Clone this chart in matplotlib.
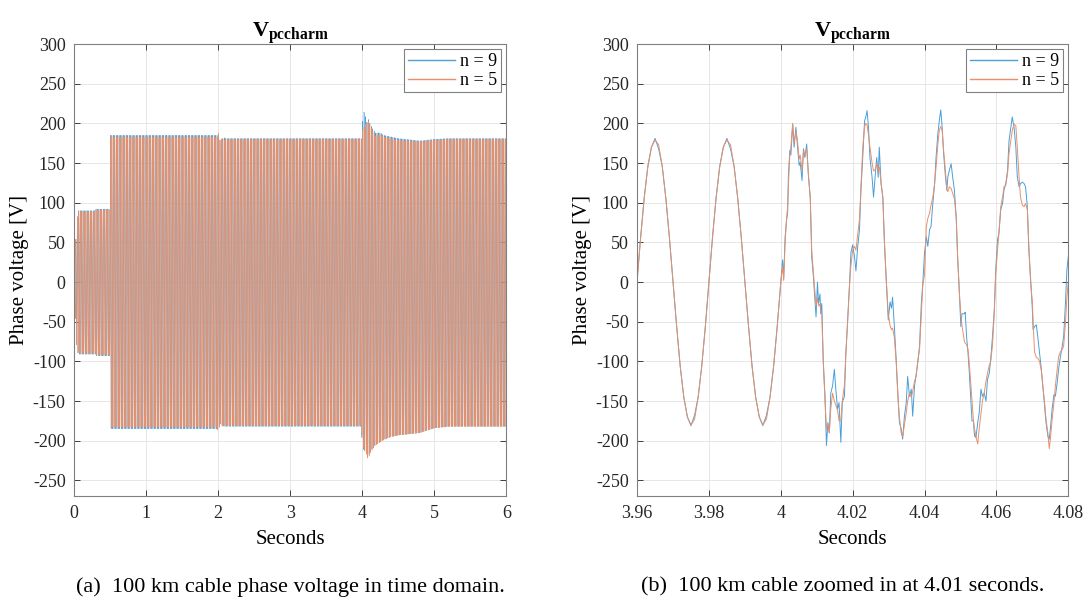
import numpy as np
import matplotlib
matplotlib.use('Agg')
import matplotlib.pyplot as plt

plt.rcParams['font.family'] = ['Liberation Serif', 'DejaVu Serif']
plt.rcParams['mathtext.fontset'] = 'custom'
plt.rcParams['mathtext.rm'] = 'Liberation Serif'
plt.rcParams['mathtext.bf'] = 'Liberation Serif:bold'
plt.rcParams['axes.unicode_minus'] = False

blue = '#4a9fd8'
orange = '#ec8f68'
labels = ['n = 9', 'n = 5']

# ---- full run: peak envelope of the 50 Hz phase voltage (seconds, volts)
f_grid = 50.0
env_t = [0.0, 0.01, 0.02, 0.04, 0.06, 0.30, 0.301, 0.50, 0.501, 1.99, 2.00, 2.03, 2.05, 2.08, 2.10,
         3.99, 4.00, 4.03, 4.06, 4.08, 4.12, 4.18, 4.25, 4.30, 4.40, 4.50, 4.80, 5.00, 5.20, 6.00]
up_9 = [0, 10, 45, 80, 90, 90, 92, 92, 185, 185, 185, 178, 180, 182, 181,
        181, 200, 217, 200, 206, 197, 188, 188, 185, 183, 181, 178, 180, 181, 181]
lo_9 = [0, 30, 60, 85, 91, 91, 93, 93, 185, 185, 185, 178, 180, 182, 182,
        182, 210, 212, 215, 220, 212, 205, 201, 198, 195, 193, 190, 184, 182, 182]
up_5 = [0, 10, 45, 80, 89, 89, 91, 91, 183, 183, 190, 176, 182, 179, 180,
        180, 190, 197, 200, 204, 195, 184, 186, 183, 181, 179, 177, 179, 180, 180]
lo_5 = [0, 30, 60, 85, 90, 90, 92, 92, 183, 183, 190, 176, 182, 181, 181,
        181, 205, 212, 218, 223, 214, 206, 202, 199, 195, 193, 190, 184, 182, 182]

# ---- zoomed window, time in ms after 3.96 s
zoom_ms = list(range(0, 40)) + [
    40.0, 40.5, 40.8, 41.2, 41.6, 41.9, 42.1, 42.5, 42.8, 43.3, 43.7, 44.2, 44.6, 45.1, 45.4, 45.9,
    46.3, 46.7, 47.2, 47.7, 48.2, 48.6, 49.1, 49.8, 50.2, 50.5, 50.9, 51.1, 51.4, 51.8, 52.3, 52.7,
    53.1, 53.5, 53.9, 54.4, 54.9, 55.3, 55.8, 56.2, 56.7, 57.1, 57.7, 58.1, 58.6, 59.1, 59.5, 60.0,
    60.5, 60.9, 61.4, 61.9, 62.3, 62.8, 63.3, 63.6, 64.0, 64.4, 64.8, 65.4, 65.8, 66.3, 66.7, 67.1,
    67.4, 67.9, 68.4, 68.8, 69.3, 69.9, 70.4, 70.8, 71.1, 71.6, 72.1, 72.6, 73.0, 73.5, 73.9, 74.4,
    74.9, 75.3, 75.8, 76.3, 76.7, 77.2, 77.6, 78.1, 78.6, 79.1, 79.5, 80.0, 80.5, 80.9, 81.4, 81.8,
    82.3, 82.8, 83.2, 83.7, 84.1, 84.5, 84.9, 85.3, 85.8, 86.2, 86.5, 86.9, 87.4, 87.8, 88.3, 88.8,
    89.2, 89.7, 90.1, 90.4, 91.1, 91.3, 91.7, 92.1, 92.4, 92.9, 93.2, 93.6, 93.9, 94.3, 94.8, 95.2,
    95.7, 96.1, 96.6, 97.1, 97.5, 98.0, 98.4, 98.9, 99.4, 99.8, 100.3, 100.7, 101.2, 101.7, 102.1, 102.6,
    103.1, 103.5, 104.0, 104.4, 104.9, 105.4, 105.8, 106.3, 106.7, 107.2, 107.7, 108.1, 108.6, 109.0, 109.5, 110.0,
    110.2, 110.6, 111.1, 111.5, 112.0, 112.5, 112.9, 113.4, 113.8, 114.3, 114.7, 115.1, 115.5, 116.0, 116.4, 116.9,
    117.3, 117.8, 118.3, 118.7, 119.2, 119.6, 120.0]

zoom_9 = [
    2, 57, 107, 146, 170, 181, 168, 146, 106, 56, 1, -55, -106, -145, -170, -181, -168, -145, -106, -56,
    1, 57, 107, 146, 170, 181, 168, 146, 106, 56, 1, -55, -106, -145, -170, -181, -168, -145, -106, -56,
    0, 28, 5, 57, 78, 87, 132, 166, 160, 199, 170, 195, 174, 147, 151, 128,
    168, 157, 174, 132, 107, 32, 5, -44, 0, -27, -15, -40, -27, -98, -144, -206,
    -177, -190, -140, -131, -110, -135, -160, -152, -202, -152, -144, -90, -48, -5, 37, 47,
    32, 14, 45, 66, 116, 157, 203, 207, 216, 195, 157, 132, 107, 136, 157, 132,
    170, 124, 107, 53, 7, -48, -25, -33, -19, -56, -98, -144, -177, -185, -198, -169,
    -152, -119, -144, -135, -169, -131, -119, -102, -81, -27, -2, 37, 57, 45, 66, 70,
    99, 124, 157, 187, 203, 217, 195, 162, 133, 116, 133, 141, 149, 133, 116, 82,
    32, -15, -56, -40, -40, -38, -69, -90, -110, -152, -175, -175, -194, -196, -177, -165,
    -135, -144, -140, -150, -123, -115, -98, -69, -35, 15, 53, 62, 91, 99, 116, 124,
    141, 178, 195, 208, 195, 170, 133, 120, 124, 126, 124, 120, 95, 41, 5, -35,
    -60, -56, -54, -69, -90, -110, -131, -156, -177, -194, -198, -181, -160, -142, -144, -127,
    -110, -94, -81, -69, -27, 15, 32]

zoom_5 = [
    0, 56, 106, 145, 170, 179, 173, 146, 106, 56, 0, -55, -106, -145, -170, -180, -173, -145, -106, -56,
    0, 56, 106, 145, 170, 179, 173, 146, 106, 56, 0, -55, -106, -145, -170, -180, -173, -145, -106, -56,
    0, 20, 2, 50, 80, 95, 120, 160, 170, 200, 175, 190, 180, 155, 160, 140,
    165, 160, 168, 135, 105, 40, 10, -30, -20, -30, -28, -35, -40, -100, -150, -185,
    -180, -190, -160, -140, -150, -155, -162, -175, -175, -150, -130, -90, -50, -5, 20, 40,
    45, 40, 60, 80, 120, 170, 195, 200, 198, 185, 170, 150, 140, 142, 150, 140,
    145, 125, 105, 55, 5, -40, -55, -60, -58, -70, -100, -145, -170, -190, -195, -180,
    -165, -150, -140, -145, -138, -125, -120, -100, -85, -40, -5, 10, 70, 80, 87, 97,
    107, 124, 145, 174, 191, 196, 191, 166, 141, 116, 114, 120, 118, 112, 105, 82,
    32, -15, -40, -55, -75, -77, -79, -85, -100, -130, -150, -175, -185, -195, -204, -185,
    -165, -150, -140, -125, -115, -105, -100, -80, -40, 10, 40, 62, 95, 107, 120, 122,
    137, 162, 178, 191, 199, 197, 170, 132, 107, 97, 95, 99, 91, 49, 0, -25,
    -50, -88, -95, -96, -100, -112, -131, -152, -173, -190, -210, -194, -173, -152, -131, -110,
    -94, -88, -85, -81, -52, -19, 0]


def phase_wave(t, t_pts, upper, lower):
    s = np.sin(2 * np.pi * f_grid * t)
    up = np.interp(t, t_pts, upper)
    lo = np.interp(t, t_pts, lower)
    return np.where(s > 0, up * s, lo * s)


def style_axes(ax):
    ax.set_ylim(-270, 300)
    ax.set_yticks(range(-250, 301, 50))
    ax.grid(True, color='#e2e2e2', linewidth=0.6)
    ax.set_axisbelow(True)
    ax.tick_params(direction='in', top=True, right=True, labelsize=13,
                   colors='#262626', length=4, width=0.6, pad=6)
    for s in ax.spines.values():
        s.set_color('#808080')
        s.set_linewidth(0.8)
    ax.set_title(r'$\mathbf{V_{pccharm}}$', fontsize=16, pad=5)
    ax.set_xlabel('Seconds', fontsize=15, labelpad=6)
    ax.set_ylabel('Phase voltage [V]', fontsize=15, labelpad=3)
    leg = ax.legend(loc='upper right', fontsize=13, fancybox=False, framealpha=1,
                    edgecolor='#808080', borderpad=0.2, handlelength=2.6,
                    handletextpad=0.3, labelspacing=0.1, borderaxespad=0.3)
    leg.get_frame().set_linewidth(0.8)
    for line in leg.get_lines():
        line.set_linewidth(1.0)


fig = plt.figure(figsize=(10.89, 6.03), dpi=100)
ax1 = fig.add_axes([0.068, 0.177, 0.397, 0.750])
ax2 = fig.add_axes([0.585, 0.177, 0.396, 0.750])

t = np.arange(0, 6.0, 1 / 5000.0)
ax1.plot(t, phase_wave(t, env_t, up_9, lo_9), color=blue, linewidth=0.35, label=labels[0])
ax1.plot(t, phase_wave(t, env_t, up_5, lo_5), color=orange, linewidth=0.35, label=labels[1])
ax1.set_xlim(0, 6)
ax1.set_xticks(range(0, 7))
style_axes(ax1)

tz = 3.96 + np.array(zoom_ms) / 1000.0
ax2.plot(tz, zoom_9, color=blue, linewidth=0.7, label=labels[0])
ax2.plot(tz, zoom_5, color=orange, linewidth=0.7, label=labels[1])
ax2.set_xlim(3.96, 4.08)
ax2.set_xticks([3.96, 3.98, 4.0, 4.02, 4.04, 4.06, 4.08])
ax2.set_xticklabels(['3.96', '3.98', '4', '4.02', '4.04', '4.06', '4.08'])
style_axes(ax2)

fig.text(0.267, 0.027, '(a)  100 km cable phase voltage in time domain.', fontsize=16,
         ha='center', va='center')
fig.text(0.774, 0.027, '(b)  100 km cable zoomed in at 4.01 seconds.', fontsize=16,
         ha='center', va='center')

fig.savefig('out.png', dpi=100)
